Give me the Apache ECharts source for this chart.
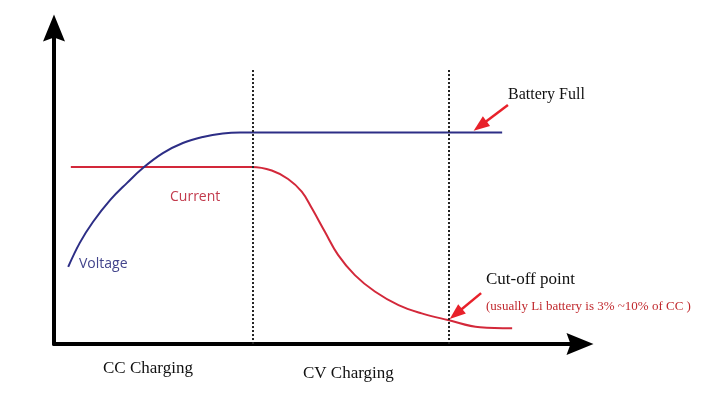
<!DOCTYPE html>
<html>
<head>
<meta charset="utf-8">
<script src="https://cdn.jsdelivr.net/npm/echarts@6/dist/echarts.min.js"></script>
<style>html,body{margin:0;padding:0;background:#fff;}#c{width:719px;height:395px;}</style>
</head>
<body>
<div id="c"></div>
<script>
// x: time (0..100), y: level (0..100)
var voltage = [[2.7,24.4],[4.9,32.0],[7.4,38.6],[10.7,45.6],[13.9,51.0],[16.9,55.7],[20.7,60.4],[24.5,63.6],[28.3,65.5],[32.1,66.6],[35.4,66.9],[37.6,66.9],[85.2,66.9]];
var current = [[3.2,56.0],[37.6,56.0],[41.4,54.9],[44.5,52.2],[47.1,48.2],[49.0,43.0],[51.5,35.5],[54.0,28.2],[57.2,21.8],[61.0,16.6],[65.5,12.3],[69.9,9.7],[74.9,7.6],[81.0,5.3],[87.1,5.0]];
var phaseBoundaries = [37.7, 75.1];
var boundaryTop = 86.7;
var batteryFullArrow = [[86.3,75.6],[81.0,69.0]];
var cutoffArrow = [[81.2,16.1],[76.4,9.5]];
var labels = {
  batteryFull: 'Battery Full',
  cutoff: 'Cut-off point',
  cutoffNote: '(usually Li battery is 3% ~10% of CC )',
  current: 'Current',
  voltage: 'Voltage',
  cc: 'CC Charging',
  cv: 'CV Charging'
};

var chart = echarts.init(document.getElementById('c'));
var axisCommon = {
  type: 'value', min: 0, max: 100,
  axisLabel: {show: false}, axisTick: {show: false}, splitLine: {show: false},
  axisLine: {show: true, onZero: false, lineStyle: {color: '#000', width: 4},
    symbol: ['none', 'path://M11,0 L22,27 L11,23 L0,27 Z'], symbolSize: [22, 27]}
};
var serif = '"Liberation Serif", "Times New Roman", serif';
var sans = '"Open Sans", sans-serif';
chart.setOption({
  animation: false,
  backgroundColor: '#fff',
  grid: {left: 54, right: 139, top: 28, bottom: 51},
  xAxis: axisCommon,
  yAxis: axisCommon,
  graphic: [
    {type: 'text', x: 508, y: 95, style: {text: labels.batteryFull, font: '16px ' + serif, fill: '#111', verticalAlign: 'middle'}},
    {type: 'text', x: 486, y: 280, style: {text: labels.cutoff, font: '17px ' + serif, fill: '#111', verticalAlign: 'middle'}},
    {type: 'text', x: 486, y: 307, style: {text: labels.cutoffNote, font: '13px ' + serif, fill: '#c0282d', verticalAlign: 'middle'}},
    {type: 'text', x: 170, y: 197, style: {text: labels.current, font: '14px ' + sans, fill: '#c23a4c', verticalAlign: 'middle'}},
    {type: 'text', x: 79, y: 264, style: {text: labels.voltage, font: '14px ' + sans, fill: '#43458c', verticalAlign: 'middle'}},
    {type: 'text', x: 103, y: 369, style: {text: labels.cc, font: '17px ' + serif, fill: '#111', verticalAlign: 'middle'}},
    {type: 'text', x: 303, y: 374, style: {text: labels.cv, font: '17px ' + serif, fill: '#111', verticalAlign: 'middle'}}
  ],
  series: [
    {
      name: 'Current', type: 'line', data: current, showSymbol: false, smooth: 0.4,
      lineStyle: {color: '#d3283a', width: 2}, z: 3,
      markLine: {
        silent: true, symbol: ['none', 'none'], label: {show: false},
        lineStyle: {color: '#222', width: 2, type: [2, 2]},
        data: phaseBoundaries.map(function (x) { return [{coord: [x, boundaryTop]}, {coord: [x, 0]}]; })
      }
    },
    {
      name: 'Voltage', type: 'line', data: voltage, showSymbol: false, smooth: 0.4,
      lineStyle: {color: '#2d2e86', width: 2}, z: 3,
      markLine: {
        silent: true, symbol: ['none', 'triangle'], symbolSize: [12, 16], label: {show: false},
        lineStyle: {color: '#e8212a', width: 2.5, type: 'solid'},
        data: [
          [{coord: batteryFullArrow[0]}, {coord: batteryFullArrow[1]}],
          [{coord: cutoffArrow[0]}, {coord: cutoffArrow[1]}]
        ]
      }
    }
  ]
});
</script>
</body>
</html>
